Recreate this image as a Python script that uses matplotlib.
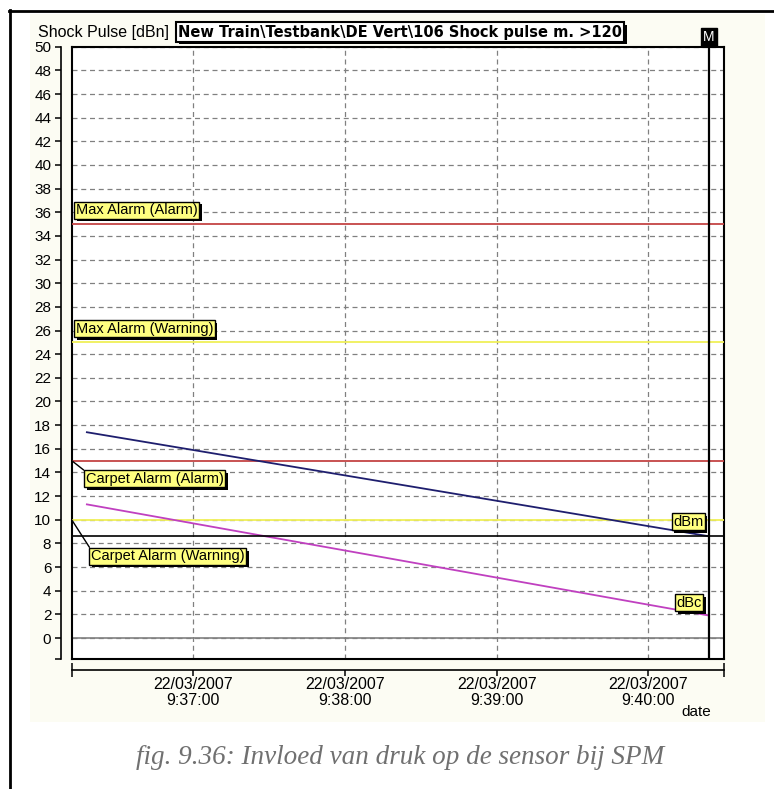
import matplotlib
matplotlib.use("Agg")
import matplotlib.pyplot as plt
import matplotlib.dates as mdates
import matplotlib.patheffects as pe
from matplotlib.patches import Rectangle
from matplotlib.lines import Line2D
import pandas as pd

plt.rcParams['font.family'] = ['Liberation Sans', 'DejaVu Sans']

# ---- data -------------------------------------------------------------
meas_times = ["2007-03-22 09:36:18", "2007-03-22 09:40:24"]
dbm_values = [17.4, 8.6]
dbc_values = [11.3, 1.9]

alarm_labels = ["Max Alarm (Alarm)", "Max Alarm (Warning)",
                "Carpet Alarm (Alarm)", "Carpet Alarm (Warning)"]
alarm_levels = [35, 25, 15, 10]

tick_times = ["2007-03-22 09:37:00", "2007-03-22 09:38:00",
              "2007-03-22 09:39:00", "2007-03-22 09:40:00"]
x_range = ["2007-03-22 09:36:12", "2007-03-22 09:40:30"]
y_range = [-1.8, 50]
y_ticks = list(range(0, 51, 2))

title_text = "New Train\\Testbank\\DE Vert\\106 Shock pulse m. >120"
ylabel_text = "Shock Pulse [dBn]"
caption_text = "fig. 9.36: Invloed van druk op de sensor bij SPM"

# ---- helpers ----------------------------------------------------------
def to_num(ts):
    return mdates.date2num(pd.to_datetime(ts).to_pydatetime())

x_meas = [to_num(t) for t in meas_times]
x_ticks = [to_num(t) for t in tick_times]
x_lim = [to_num(t) for t in x_range]
x_ticklabels = [pd.to_datetime(t).strftime("%d/%m/%Y\n%-H:%M:%S") for t in tick_times]

W, H = 774, 789
fig = plt.figure(figsize=(W / 100, H / 100), dpi=100)
fig.patch.set_facecolor("white")


def fx(px):
    return px / W


def fy(py):
    return 1 - py / H


# faint cream background of the screenshot area, and the page frame
fig.patches.append(Rectangle((fx(30), fy(722)), fx(765) - fx(30), fy(14) - fy(722),
                             transform=fig.transFigure, facecolor="#fcfcf3",
                             edgecolor="none", zorder=-5))
fig.lines.append(Line2D([fx(9), 1.0], [fy(10.5), fy(10.5)], transform=fig.transFigure,
                        color="black", lw=2))
fig.lines.append(Line2D([fx(10), fx(10)], [fy(10), 0.0], transform=fig.transFigure,
                        color="black", lw=2))

left, right, top, bottom = 71.7, 724.3, 46.7, 659.3
ax = fig.add_axes([fx(left), fy(bottom), fx(right) - fx(left), fy(top) - fy(bottom)])
ax.set_zorder(1)
ax.set_facecolor("white")
ax.set_xlim(x_lim)
ax.set_ylim(y_range)
for s in ax.spines.values():
    s.set_linewidth(1.5)
    s.set_color("black")

ax.set_xticks(x_ticks)
ax.set_yticks(y_ticks)
ax.tick_params(axis="both", which="both", length=0, labelbottom=False, labelleft=False)
ax.grid(True, color="#808080", lw=0.9, linestyle=(0, (4, 3)))
ax.set_axisbelow(True)

# zero line
ax.axhline(0, color="#808080", lw=1.2, zorder=2)

# alarm levels
alarm_colors = ["#c44444", "#f0f058", "#c44444", "#f0f058"]
for lvl, c in zip(alarm_levels, alarm_colors):
    ax.axhline(lvl, color=c, lw=1.3, zorder=3)

# measurements
ax.plot(x_meas, dbm_values, color="#1e1e6e", lw=1.3, zorder=4)
ax.plot(x_meas, dbc_values, color="#c040c0", lw=1.3, zorder=4)

# cursor at last measurement
ax.axhline(dbm_values[-1], color="black", lw=1.2, zorder=5)
ax.axvline(x_meas[-1], color="black", lw=1.6, zorder=5)

shadow = [pe.withSimplePatchShadow(offset=(2, -2), shadow_rgbFace="black", alpha=1.0)]
label_kw = dict(fontsize=10.5, color="black", zorder=8,
                bbox=dict(boxstyle="square,pad=0.1", facecolor="#ffff80",
                          edgecolor="black", lw=1.0))


def boxed(txt, xy, offset, ha="left", va="center", leader=False, xycoords="data"):
    kw = dict(label_kw)
    if leader:
        kw["arrowprops"] = dict(arrowstyle="-", color="black", lw=1.0,
                                relpos=(0, 1), shrinkA=0, shrinkB=0)
    a = ax.annotate(txt, xy=xy, xycoords=xycoords, xytext=offset,
                    textcoords="offset pixels", ha=ha, va=va, annotation_clip=False, **kw)
    a.get_bbox_patch().set_path_effects(shadow)
    return a


blend = ("axes fraction", "data")
boxed(alarm_labels[0], (0, alarm_levels[0]), (4, 14), xycoords=blend)
boxed(alarm_labels[1], (0, alarm_levels[1]), (4, 13.5), xycoords=blend)
boxed(alarm_labels[2], (0, alarm_levels[2]), (14, -18), xycoords=blend, leader=True)
boxed(alarm_labels[3], (0, alarm_levels[3]), (19, -36.5), xycoords=blend, leader=True)
boxed("dBm", (x_meas[-1], dbm_values[-1]), (-21, 14.5), ha="center")
boxed("dBc", (x_meas[-1], dbc_values[-1]), (-20, 13), ha="center")

# cursor marker
ax.annotate("M", xy=(x_meas[-1], 1), xycoords=("data", "axes fraction"),
            xytext=(0, 9.5), textcoords="offset pixels", ha="center", va="center",
            color="white", fontsize=10, annotation_clip=False,
            bbox=dict(boxstyle="square,pad=0.15", facecolor="black", edgecolor="black"))

# y ruler, left of the frame
sy = ax.secondary_yaxis(-(left - 61) / (right - left))
sy.set_yticks(y_ticks)
sy.set_yticks([y_range[0]], minor=True)
sy.spines["left"].set_linewidth(1.2)
sy.tick_params(axis="y", which="major", length=4, width=1.1, pad=3, labelsize=11)
sy.tick_params(axis="y", which="minor", length=4, width=1.1)

# x ruler, below the frame
sx = ax.secondary_xaxis(-(669.5 - bottom) / (bottom - top))
sx.set_xticks(x_ticks)
sx.set_xticklabels(x_ticklabels, fontsize=11.5, linespacing=1.1)
sx.set_xticks(x_lim, minor=True)
sx.spines["bottom"].set_linewidth(1.2)
sx.tick_params(axis="x", which="major", length=4, width=1.1, pad=1.5)
sx.tick_params(axis="x", which="minor", direction="inout", length=10, width=1.1)

# texts around the plot
fig.text(fx(37.5), fy(32), ylabel_text, fontsize=11.5, ha="left", va="center")
t = fig.text(fx(178), fy(32), title_text, fontsize=10.5, fontweight="bold",
             family="DejaVu Sans", ha="left", va="center",
             bbox=dict(boxstyle="square,pad=0.15", facecolor="white",
                       edgecolor="black", lw=1.5))
t.get_bbox_patch().set_path_effects(shadow)
fig.text(fx(696), fy(712), "date", fontsize=11, ha="center", va="center")
fig.text(fx(400), fy(757), caption_text, fontsize=19.5, ha="center", va="center",
         family="Liberation Serif", style="italic", color="#707070")

fig.savefig("out.png", dpi=100)
